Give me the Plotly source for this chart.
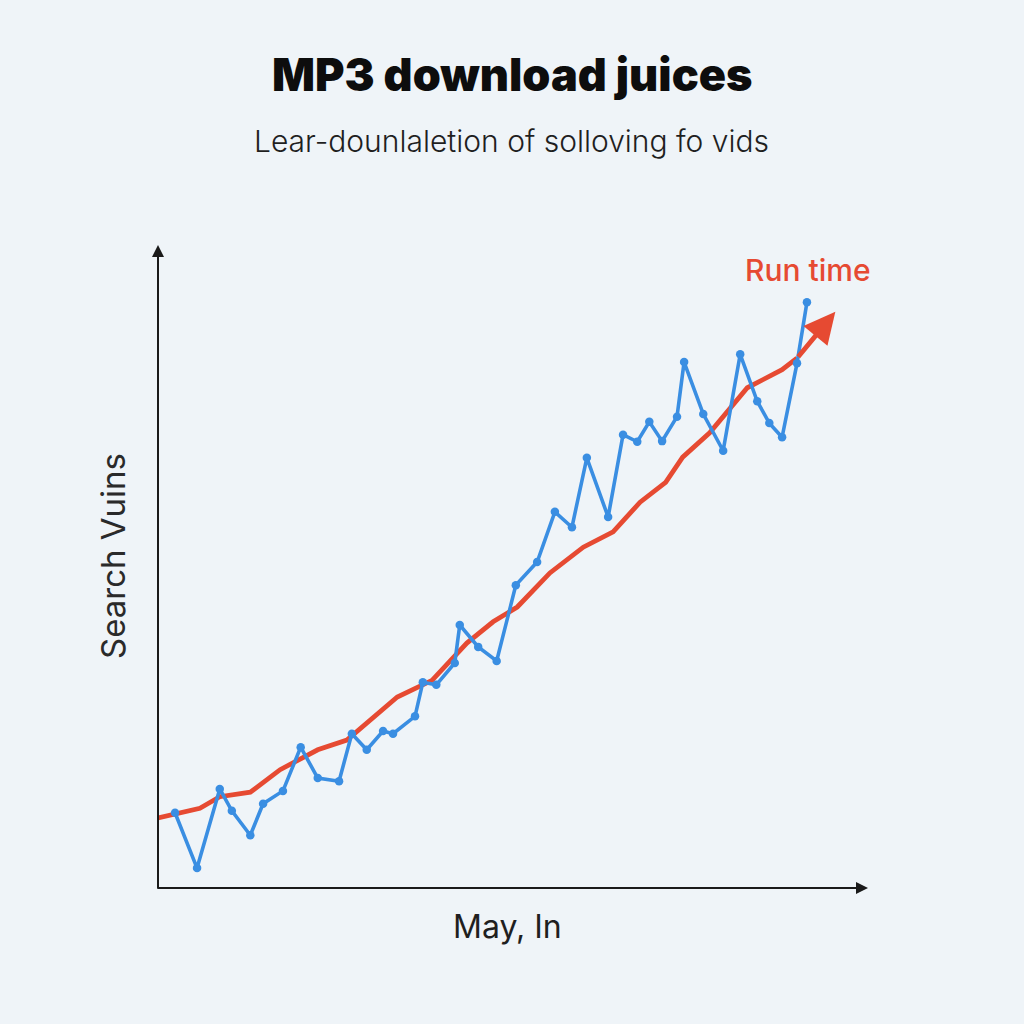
import plotly.graph_objects as go

# Blue series (search volume, noisy)
blue_x = [2.4, 5.5, 8.7, 10.4, 13.0, 14.8, 17.6, 20.1, 22.5, 25.5, 27.3, 29.4, 31.7, 33.1,
          36.2, 37.3, 39.2, 41.8, 42.5, 45.1, 47.7, 50.4, 53.4, 55.9, 58.3, 60.4, 63.4, 65.5,
          67.5, 69.2, 71.0, 73.1, 74.1, 76.8, 79.6, 82.0, 84.4, 86.1, 87.9, 90.0, 91.4]
blue_y = [11.7, 3.1, 15.4, 12.0, 8.2, 13.1, 15.1, 21.9, 17.1, 16.6, 24.0, 21.5, 24.4, 24.0,
          26.7, 32.0, 31.6, 35.0, 40.9, 37.5, 35.3, 47.1, 50.7, 58.5, 56.1, 66.9, 57.7, 70.5,
          69.4, 72.5, 69.5, 73.3, 81.8, 73.7, 68.0, 83.0, 75.7, 72.3, 70.1, 81.6, 91.1]

# Red trend series (run time)
red_x = [0, 5.9, 8.7, 13.0, 17.2, 22.5, 26.6, 33.7, 38.6, 43.5, 47.2, 50.6, 55.2, 59.9,
         64.1, 67.9, 71.5, 73.9, 77.7, 83.0, 87.9, 90.0]
red_y = [10.9, 12.4, 14.2, 14.9, 18.4, 21.5, 23.0, 29.7, 32.3, 38.1, 41.4, 43.7, 49.0, 53.0,
         55.4, 60.0, 63.1, 67.0, 70.8, 77.8, 80.6, 82.4]
red_tip = (95.4, 89.6)

title = "MP3 download juices"
subtitle = "Lear-dounlaletion of solloving fo vids"
y_label = "Search Vuins"
x_label = "May, In"
series_label = "Run time"

BG = "#eff4f8"
BLUE = "#3a8ee2"
RED = "#e64a32"

fig = go.Figure()
fig.add_trace(go.Scatter(x=red_x, y=red_y, mode="lines",
                         line=dict(color=RED, width=4.8), hoverinfo="skip"))
fig.add_trace(go.Scatter(x=blue_x, y=blue_y, mode="lines+markers",
                         line=dict(color=BLUE, width=3.6),
                         marker=dict(color=BLUE, size=8.5), hoverinfo="skip"))

anns = []
# red arrow head
anns.append(dict(x=red_tip[0], y=red_tip[1], ax=red_x[-1], ay=red_y[-1],
                 xref="x", yref="y", axref="x", ayref="y", showarrow=True,
                 arrowhead=2, arrowsize=1.3, arrowwidth=4.8, arrowcolor=RED, text=""))
# axis arrows
anns.append(dict(x=1, y=0, xref="paper", yref="paper", ax=-712, ay=0, showarrow=True,
                 arrowhead=2, arrowsize=1.2, arrowwidth=2, arrowcolor="#1a1a1a", text=""))
anns.append(dict(x=0, y=1, xref="paper", yref="paper", ax=0, ay=645, showarrow=True,
                 arrowhead=2, arrowsize=1.2, arrowwidth=2, arrowcolor="#1a1a1a", text=""))

fig.update_layout(
    width=1024, height=1024,
    paper_bgcolor=BG, plot_bgcolor=BG,
    margin=dict(l=158, r=156, t=245, b=136),
    showlegend=False,
    xaxis=dict(range=[0, 100], showgrid=False, zeroline=False, showticklabels=False,
               ticks="", showline=False, fixedrange=True),
    yaxis=dict(range=[0, 100], showgrid=False, zeroline=False, showticklabels=False,
               ticks="", showline=False, fixedrange=True),
    annotations=anns,
)

def paper_text(px, py, text, size, color, weight="normal", angle=0, family="Inter"):
    xp = (px - 158) / (1024 - 158 - 156)
    yp = (888 - py) / (888 - 245)
    fig.add_annotation(x=xp, y=yp, xref="paper", yref="paper", text=text, showarrow=False,
                       font=dict(size=size, color=color, family=family, weight=weight),
                       textangle=angle, xanchor="center", yanchor="middle")

paper_text(512, 75, title, 45, "#0d0d0d", weight=900)
paper_text(511, 141, subtitle, 30, "#1f1f1f", weight=300)
paper_text(113, 556, y_label, 33, "#2a2a2a", angle=-90)
paper_text(507, 926, x_label, 32, "#1f1f1f")
paper_text(808, 270, series_label, 30, RED, weight=500)

fig.write_html("out.html", config={"displayModeBar": False},
               post_script="document.body.style.margin='0';document.body.style.background='%s';" % BG)
